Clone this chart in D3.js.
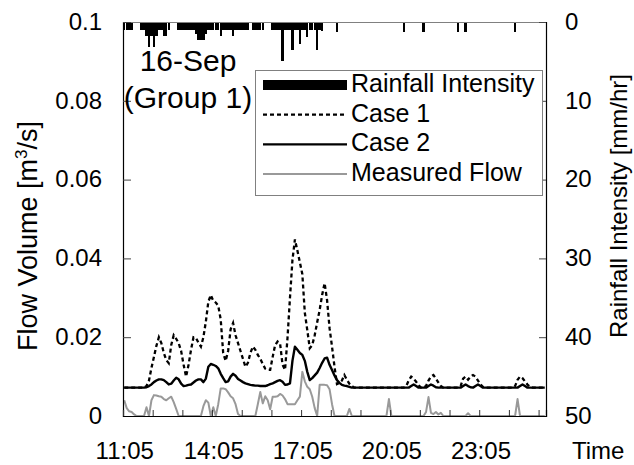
<!DOCTYPE html>
<html>
<head>
<meta charset="utf-8">
<script src="https://cdn.jsdelivr.net/npm/d3@7"></script>
<style>
  html, body { margin: 0; padding: 0; background: #ffffff; }
  svg text { font-family: "Liberation Sans", Arial, sans-serif; fill: #000; }
</style>
</head>
<body>
<svg id="chart" width="634" height="465"></svg>
<script>
// ---------------- DATA ----------------
// 5-minute steps starting 11:05 (171 steps)
const tickLabels = ["11:05", "14:05", "17:05", "20:05", "23:05"];
const tickLabelIndex = [0, 36, 72, 108, 144];

const yLeftTicks = [0, 0.02, 0.04, 0.06, 0.08, 0.1];
const yLeftLabels = ["0", "0.02", "0.04", "0.06", "0.08", "0.1"];
const yRightTicks = [0, 10, 20, 30, 40, 50];

// Rainfall intensity [mm/hr]
const rainfall = [
  1.0,1.0,1.0,1.0,0,0,0,1.0,1.0,1.8,
  3.2,1.8,3.2,1.8,1.0,1.0,1.8,1.8,1.0,0,
  0,0,1.0,1.0,1.0,1.0,1.0,1.0,1.0,1.5,
  2.3,2.3,2.3,1.5,1.0,1.0,1.0,1.0,1.0,1.8,
  1.0,1.0,1.0,1.0,1.8,1.0,1.0,1.0,1.0,1.0,
  1.0,0,1.0,1.0,1.0,1.0,1.0,0,0,0,
  1.0,1.0,1.0,1.0,4.9,1.0,1.0,1.0,3.6,1.0,
  1.0,2.8,1.0,1.0,1.9,1.0,1.0,1.0,3.5,1.0,
  1.2,0,0,0,0,0,1.3,0,0,0,
  0,0,0,0,0,0,0,0,0,0,
  0,0,0,0,0,0,0,0,0,0,
  0,0,0,1.3,0,0,0,0,0,0,
  0,1.3,0,0,0,0,0,0,0,0,
  0,0,0,0,0,1.3,0,0,1.3,0,
  0,0,0,0,0,0,0,0,0,0,
  0,0,0,0,0,0,0,0,1.3,0,
  0,0,0,0,0,0,0,0,0,0,
  0
];

// Case 1 simulated flow [m3/s]
const case1 = [
  0.0072,0.0072,0.0072,0.0072,0.0072,0.0072,0.0072,0.0072,0.0072,0.0076,
  0.0090,0.0122,0.0150,0.0178,0.0200,0.0185,0.0160,0.0142,0.0134,0.0180,
  0.0205,0.0196,0.0185,0.0165,0.0130,0.0100,0.0130,0.0168,0.0200,0.0198,
  0.0186,0.0176,0.0200,0.0240,0.0290,0.0307,0.0292,0.0288,0.0280,0.0245,
  0.0160,0.0140,0.0165,0.0220,0.0236,0.0205,0.0185,0.0165,0.0145,0.0125,
  0.0135,0.0160,0.0176,0.0168,0.0155,0.0145,0.0132,0.0120,0.0117,0.0117,
  0.0150,0.0180,0.0189,0.0184,0.0130,0.0117,0.0198,0.0300,0.0396,0.0448,
  0.0420,0.0390,0.0360,0.0262,0.0218,0.0172,0.0180,0.0205,0.0238,0.0269,
  0.0307,0.0337,0.0294,0.0223,0.0176,0.0125,0.0081,0.0084,0.0090,0.0104,
  0.0092,0.0082,0.0076,0.0072,0.0072,0.0072,0.0072,0.0072,0.0072,0.0072,
  0.0072,0.0072,0.0072,0.0072,0.0072,0.0072,0.0072,0.0072,0.0072,0.0072,
  0.0072,0.0072,0.0072,0.0072,0.0076,0.0090,0.0100,0.0095,0.0087,0.0078,
  0.0072,0.0072,0.0076,0.0090,0.0100,0.0104,0.0095,0.0085,0.0076,0.0072,
  0.0072,0.0072,0.0072,0.0072,0.0072,0.0072,0.0076,0.0095,0.0100,0.0092,
  0.0100,0.0104,0.0100,0.0090,0.0080,0.0074,0.0072,0.0072,0.0072,0.0072,
  0.0072,0.0072,0.0072,0.0072,0.0072,0.0072,0.0072,0.0072,0.0076,0.0092,
  0.0100,0.0096,0.0088,0.0080,0.0074,0.0072,0.0072,0.0072,0.0072,0.0072,
  0.0072
];

// Case 2 simulated flow [m3/s]
const case2 = [
  0.0072,0.0072,0.0072,0.0072,0.0072,0.0072,0.0072,0.0072,0.0072,0.0073,
  0.0076,0.0080,0.0086,0.0090,0.0093,0.0093,0.0091,0.0086,0.0080,0.0082,
  0.0090,0.0097,0.0093,0.0082,0.0076,0.0077,0.0079,0.0080,0.0085,0.0090,
  0.0093,0.0093,0.0086,0.0095,0.0125,0.0132,0.0130,0.0127,0.0121,0.0107,
  0.0096,0.0086,0.0088,0.0100,0.0107,0.0102,0.0094,0.0090,0.0086,0.0083,
  0.0081,0.0079,0.0078,0.0077,0.0077,0.0076,0.0076,0.0076,0.0078,0.0081,
  0.0083,0.0086,0.0089,0.0091,0.0087,0.0079,0.0080,0.0083,0.0140,0.0176,
  0.0168,0.0160,0.0155,0.0140,0.0112,0.0091,0.0096,0.0103,0.0110,0.0122,
  0.0135,0.0146,0.0148,0.0130,0.0117,0.0103,0.0091,0.0084,0.0079,0.0077,
  0.0076,0.0074,0.0072,0.0072,0.0072,0.0072,0.0072,0.0072,0.0072,0.0072,
  0.0072,0.0072,0.0072,0.0072,0.0072,0.0072,0.0072,0.0072,0.0072,0.0072,
  0.0072,0.0072,0.0072,0.0072,0.0072,0.0072,0.0076,0.0080,0.0076,0.0072,
  0.0072,0.0072,0.0072,0.0076,0.0080,0.0077,0.0073,0.0072,0.0072,0.0072,
  0.0072,0.0072,0.0072,0.0072,0.0072,0.0072,0.0072,0.0076,0.0080,0.0076,
  0.0073,0.0072,0.0076,0.0080,0.0076,0.0072,0.0072,0.0072,0.0072,0.0072,
  0.0072,0.0072,0.0072,0.0072,0.0072,0.0072,0.0072,0.0072,0.0072,0.0072,
  0.0076,0.0080,0.0076,0.0072,0.0072,0.0072,0.0072,0.0072,0.0072,0.0072,
  0.0072
];

// Measured flow [m3/s]
const measured = [
  0.0040,0.0020,0.0012,0.0010,0.0004,0,0,0,0,0.0022,
  0,0.0040,0.0053,0.0052,0.0050,0.0049,0.0043,0.0040,0.0045,0.0049,
  0.0035,0.0018,0,0,0,0,0,0,0,0,
  0,0,0.0025,0.0040,0.0034,0,0.0022,0,0.0030,0.0070,
  0.0070,0.0068,0.0060,0.0050,0.0045,0.0030,0.0005,0,0,0,
  0,0,0,0,0.0030,0.0061,0.0032,0.0050,0.0040,0.0017,
  0.0049,0.0049,0.0050,0.0056,0.0052,0.0043,0.0030,0.0030,0.0030,0.0030,
  0.0040,0.0049,0.0112,0.0088,0.0074,0.0068,0.0049,0.0020,0,0.0079,
  0.0079,0.0079,0.0078,0.0068,0.0030,0,0,0,0,0,
  0,0.0018,0,0,0,0,0,0,0,0,
  0,0,0,0,0,0,0,0.0043,0,0,
  0,0,0,0,0,0,0,0,0,0,
  0,0,0.0010,0.0048,0.0008,0.0005,0.0010,0.0004,0.0008,0,
  0,0,0,0,0,0,0,0,0,0.0007,
  0,0,0,0,0,0,0,0,0,0,
  0,0,0,0,0,0,0,0,0,0.0043,
  0,0,0,0,0,0,0,0,0,0,
  0
];

const legendLabels = ["Rainfall Intensity", "Case 1", "Case 2", "Measured Flow"];

// ---------------- LAYOUT ----------------
const L = 123, R = 546, T = 22, B = 416;
const N = case1.length;
const idx = d3.range(N);
const font = '"Liberation Sans", Arial, sans-serif';

const svg = d3.select("#chart");

const xBand = d3.scaleBand().domain(idx).range([L, R]).paddingInner(0.04).paddingOuter(0.02);
const xPt = d3.scalePoint().domain(idx).range([L, R]).padding(0.5);
const xLin = d3.scaleLinear().domain([0, N]).range([L, R]);
const yL = d3.scaleLinear().domain([0, 0.1]).range([B, T]);
const yR = d3.scaleLinear().domain([0, 50]).range([T, B]);

// rainfall bars (hanging from top)
svg.append("g").attr("shape-rendering", "crispEdges")
  .selectAll("rect").data(rainfall).join("rect")
  .attr("x", (d, i) => xBand(i))
  .attr("y", yR(0))
  .attr("width", xBand.bandwidth())
  .attr("height", d => yR(d) - yR(0))
  .attr("fill", "#000");

const line = d3.line().x((d, i) => xPt(i)).y(d => yL(d));

svg.append("path").datum(case1).attr("d", line)
  .attr("fill", "none").attr("stroke", "#000").attr("stroke-width", 2.3)
  .attr("stroke-dasharray", "4,3");
svg.append("path").datum(case2).attr("d", line)
  .attr("fill", "none").attr("stroke", "#000").attr("stroke-width", 2.4)
  .attr("stroke-linejoin", "round");
svg.append("path").datum(measured).attr("d", line)
  .attr("fill", "none").attr("stroke", "#999999").attr("stroke-width", 2)
  .attr("stroke-linejoin", "round");

// frame: top border gray
svg.append("line").attr("x1", L).attr("x2", R).attr("y1", T + 0.5).attr("y2", T + 0.5)
  .attr("stroke", "#808080").attr("stroke-width", 1);

// left axis
const gL = svg.append("g").attr("transform", `translate(${L},0)`)
  .call(d3.axisLeft(yL).tickValues(yLeftTicks).tickFormat((d, i) => yLeftLabels[i])
    .tickSize(-8).tickPadding(21));
gL.select(".domain").attr("stroke", "#000").attr("stroke-width", 1.2);
gL.selectAll(".tick line").attr("stroke", "#444");
gL.selectAll("text").attr("font-size", 24).attr("font-family", font).attr("dy", "0.3em");

// right axis
const gR = svg.append("g").attr("transform", `translate(${R},0)`)
  .call(d3.axisRight(yR).tickValues(yRightTicks).tickSize(-7).tickPadding(19));
gR.select(".domain").attr("stroke", "#000").attr("stroke-width", 1.2);
gR.selectAll(".tick line").attr("stroke", "#444");
gR.selectAll("text").attr("font-size", 24).attr("font-family", font).attr("dy", "0.3em");

// bottom axis: hour tick marks
const gB = svg.append("g").attr("transform", `translate(0,${B})`)
  .call(d3.axisBottom(xLin).tickValues(d3.range(0, N + 1, 12)).tickSize(-6).tickFormat(""));
gB.select(".domain").attr("stroke", "#000").attr("stroke-width", 1.2);
gB.selectAll(".tick line").attr("stroke", "#333");

// bottom axis labels
const gB2 = svg.append("g").attr("transform", `translate(0,${B})`)
  .call(d3.axisBottom(xPt).tickValues(tickLabelIndex).tickSize(0).tickPadding(26)
    .tickFormat((d, i) => tickLabels[i]));
gB2.select(".domain").remove();
gB2.selectAll("text").attr("font-size", 24).attr("font-family", font);

svg.append("text").attr("x", 572).attr("y", 459).attr("font-size", 24).text("Time");

// axis titles
const tl = svg.append("text").attr("transform", "translate(37,236) rotate(-90)")
  .attr("text-anchor", "middle").attr("font-size", 27);
tl.append("tspan").text("Flow Volume [m");
tl.append("tspan").attr("font-size", 17).attr("dy", -10).text("3");
tl.append("tspan").attr("dy", 10).text("/s]");

svg.append("text").attr("transform", "translate(627,206) rotate(-90)")
  .attr("text-anchor", "middle").attr("font-size", 24)
  .text("Rainfall Intensity [mm/hr]");

// annotation
svg.append("text").attr("x", 188).attr("y", 71).attr("text-anchor", "middle")
  .attr("font-size", 30).text("16-Sep");
svg.append("text").attr("x", 188).attr("y", 108).attr("text-anchor", "middle")
  .attr("font-size", 30).text("(Group 1)");

// legend
const lg = svg.append("g");
lg.append("rect").attr("x", 255.5).attr("y", 70.5).attr("width", 287).attr("height", 125)
  .attr("fill", "#fff").attr("stroke", "#808080").attr("stroke-width", 1);
const lgY = d3.scalePoint().domain(legendLabels).range([92, 181]);
lg.append("rect").attr("x", 263).attr("y", lgY(legendLabels[0]) - 12).attr("width", 84).attr("height", 10).attr("fill", "#000");
lg.append("line").attr("x1", 263).attr("x2", 347).attr("y1", lgY(legendLabels[1]) - 7).attr("y2", lgY(legendLabels[1]) - 7)
  .attr("stroke", "#000").attr("stroke-width", 2.3).attr("stroke-dasharray", "4,3");
lg.append("line").attr("x1", 263).attr("x2", 347).attr("y1", lgY(legendLabels[2]) - 7).attr("y2", lgY(legendLabels[2]) - 7)
  .attr("stroke", "#000").attr("stroke-width", 2.4);
lg.append("line").attr("x1", 263).attr("x2", 347).attr("y1", lgY(legendLabels[3]) - 7).attr("y2", lgY(legendLabels[3]) - 7)
  .attr("stroke", "#999999").attr("stroke-width", 2);
lg.selectAll("text.lab").data(legendLabels).join("text").attr("class", "lab")
  .attr("x", 351).attr("y", d => lgY(d)).attr("font-size", 25).text(d => d);
</script>
</body>
</html>
